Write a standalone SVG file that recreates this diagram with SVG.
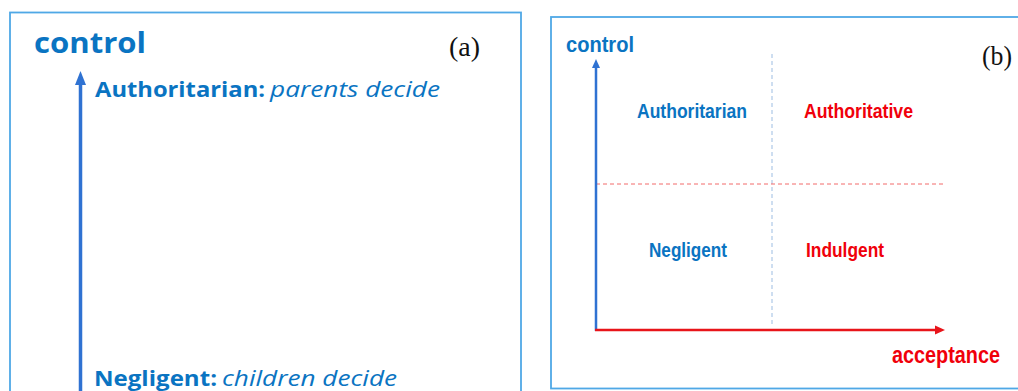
<svg xmlns="http://www.w3.org/2000/svg" width="1018" height="391" viewBox="0 0 1018 391">
<style>
.panel{fill:#fff;stroke:#4FA8E6;stroke-width:1.8}
.blue{fill:#0A74C2}
.red{fill:#F0000A}
.bA{font-family:"Open Sans","Liberation Sans",sans-serif;font-weight:bold}
.iA{font-family:"Open Sans","Liberation Sans",sans-serif;font-style:italic}
.bB{font-family:"Liberation Sans","Open Sans",sans-serif;font-weight:bold}
.lab{font-family:"Liberation Serif","DejaVu Serif",serif;fill:#111}
</style>
<rect width="1018" height="391" fill="#fff"/>
<g id="panel-a">
<rect class="panel" x="10" y="12.5" width="511" height="400"/>
<text class="bA blue" x="34" y="53" font-size="28" textLength="112" lengthAdjust="spacingAndGlyphs">control</text>
<text class="lab" x="449" y="56" font-size="28" textLength="31" lengthAdjust="spacingAndGlyphs">(a)</text>
</g>
<g id="node-a-authoritarian">
<text class="bA blue" x="95" y="97" font-size="21" textLength="170" lengthAdjust="spacingAndGlyphs">Authoritarian:</text>
<text class="iA blue" x="270" y="97" font-size="21" textLength="170" lengthAdjust="spacingAndGlyphs">parents decide</text>
</g>
<g id="node-a-negligent">
<text class="bA blue" x="94" y="386" font-size="21" textLength="123" lengthAdjust="spacingAndGlyphs">Negligent:</text>
<text class="iA blue" x="222" y="386" font-size="21" textLength="175" lengthAdjust="spacingAndGlyphs">children decide</text>
</g>
<g id="panel-b">
<rect class="panel" x="551" y="17" width="480" height="371.5"/>
<text class="bB blue" x="566" y="52" font-size="22" textLength="68" lengthAdjust="spacingAndGlyphs">control</text>
<text class="lab" x="982" y="65" font-size="28" textLength="30" lengthAdjust="spacingAndGlyphs">(b)</text>
<text class="bB red" x="892" y="363" font-size="23" textLength="108" lengthAdjust="spacingAndGlyphs">acceptance</text>
</g>
<g id="node-b-authoritarian"><text class="bB blue" x="637" y="118" font-size="20" textLength="110" lengthAdjust="spacingAndGlyphs">Authoritarian</text></g>
<g id="node-b-authoritative"><text class="bB red" x="804" y="118" font-size="20" textLength="109" lengthAdjust="spacingAndGlyphs">Authoritative</text></g>
<g id="node-b-negligent"><text class="bB blue" x="649" y="257" font-size="20" textLength="78" lengthAdjust="spacingAndGlyphs">Negligent</text></g>
<g id="node-b-indulgent"><text class="bB red" x="806" y="257" font-size="20" textLength="78" lengthAdjust="spacingAndGlyphs">Indulgent</text></g>
<g id="connectors">
<line x1="80.5" y1="400" x2="80.5" y2="82" stroke="#2F72D2" stroke-width="3.5"/>
<polygon points="80.5,71 75,85 86,85" fill="#2F72D2"/>
<line x1="772" y1="54" x2="772" y2="327" stroke="#9DBDE2" stroke-width="1" stroke-dasharray="4 3"/>
<line x1="596" y1="184" x2="946" y2="184" stroke="#F26A6A" stroke-width="1" stroke-dasharray="4 3"/>
<line x1="596" y1="331" x2="596" y2="67" stroke="#2F72D2" stroke-width="2.5"/>
<polygon points="596,59 592,68 600,68" fill="#2F72D2"/>
<line x1="595" y1="330" x2="936" y2="330" stroke="#E8141A" stroke-width="2.5"/>
<polygon points="945,330 935,325.5 935,334.5" fill="#E8141A"/>
</g>
</svg>
